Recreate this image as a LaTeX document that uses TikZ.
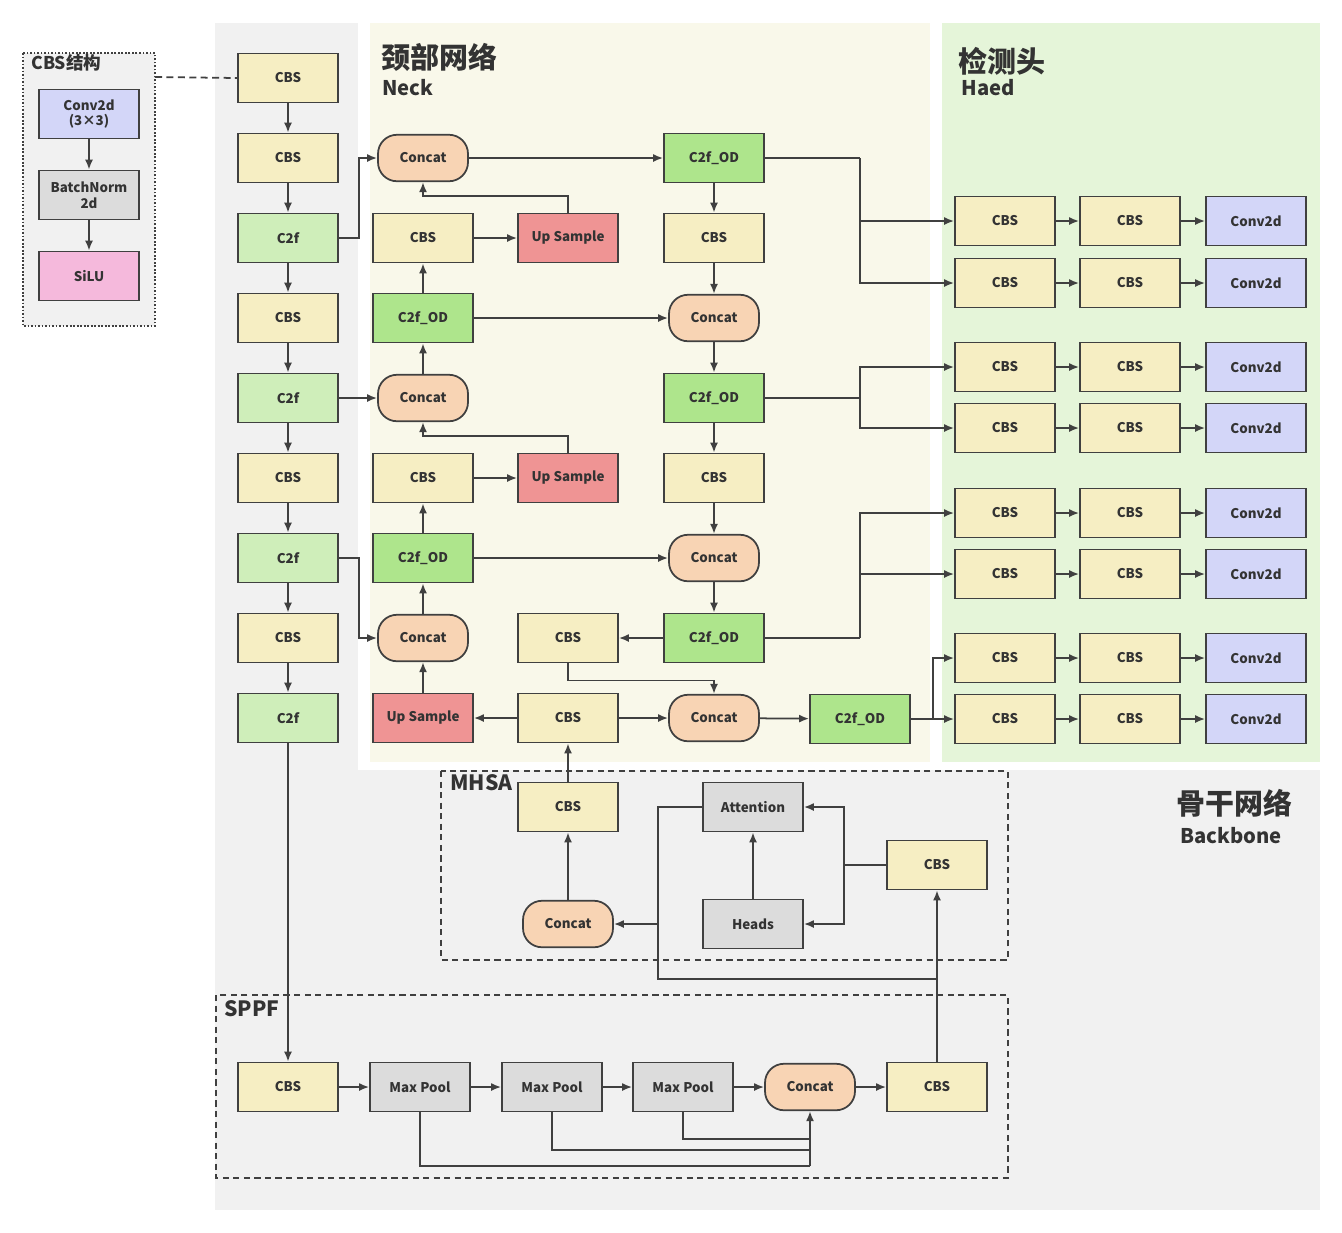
\documentclass[tikz,border=0pt]{standalone}
\usepackage{fontspec}
\setmainfont{Noto Sans CJK SC}
\usetikzlibrary{arrows.meta}
\usetikzlibrary{calc}

\definecolor{linegray}{HTML}{404040}
\definecolor{txtgray}{HTML}{333333}
\definecolor{bggray}{HTML}{F1F1F1}
\definecolor{bgneck}{HTML}{F9F8EA}
\definecolor{bghead}{HTML}{E5F5D9}
\definecolor{cbsfill}{HTML}{F6EEC3}
\definecolor{cfill}{HTML}{CFEEBA}
\definecolor{odfill}{HTML}{AEE58C}
\definecolor{catfill}{HTML}{F8D4B4}
\definecolor{upfill}{HTML}{EF9494}
\definecolor{poolfill}{HTML}{DCDCDC}
\definecolor{convfill}{HTML}{D3D6F8}
\definecolor{silufill}{HTML}{F5B9DC}

\tikzset{
  blk/.style={draw=linegray,line width=1pt,minimum width=2cm,minimum height=0.98cm,
    inner sep=1pt,align=center,text=txtgray,font=\fontsize{7.6}{9}\selectfont\bfseries},
  cbs/.style={blk,fill=cbsfill},
  ctwo/.style={blk,fill=cfill},
  ctwood/.style={blk,fill=odfill},
  cat/.style={blk,fill=catfill,minimum width=1.8cm,minimum height=0.93cm,rounded corners=0.38cm},
  ups/.style={blk,fill=upfill},
  pool/.style={blk,fill=poolfill},
  conv/.style={blk,fill=convfill},
  arr/.style={draw=linegray,line width=1pt,-{Latex[length=2mm,width=1.6mm]}},
  ln/.style={draw=linegray,line width=1pt},
  dashframe/.style={draw=linegray,line width=1pt,dash pattern=on 3.5pt off 2.5pt},
  ttl/.style={text=txtgray,inner sep=0pt,font=\fontsize{16.5}{20}\selectfont\bfseries},
  ttlsub/.style={text=txtgray,inner sep=0pt,font=\fontsize{11.5}{14}\selectfont\bfseries},
  tagtxt/.style={text=txtgray,inner sep=0pt,font=\fontsize{12}{14}\selectfont\bfseries},
}

\begin{document}
\begin{tikzpicture}[x=0.02cm,y=-0.02cm]
\useasboundingbox (0,0) rectangle (1342,1232);
% background regions
\fill[bggray] (215,23) rectangle (1320,1210);
\fill[white] (358,23) rectangle (1342,770);
\fill[bgneck] (370,23) rectangle (930,762);
\fill[bghead] (942,23) rectangle (1320,762);
% titles
\node[ttl,anchor=west] (tneck) at (381,57) {颈部网络};
\node[ttlsub,anchor=base west] (tneckb) at (382,95) {Neck};
\node[ttl,anchor=west] (thead) at (958,61) {检测头};
\node[ttlsub,anchor=base west] (theadb) at (961,95) {Haed};
\node[ttl,anchor=west] (tback) at (1176,803) {骨干网络};
\node[ttlsub,anchor=base west] (tbackb) at (1180,843) {Backbone};

% CBS structure
\fill[bggray] (23,53) rectangle (155,326);
\draw[ln,dash pattern=on 1pt off 1pt] (23,53) rectangle (155,326);
\node[tagtxt,font=\fontsize{10}{12}\selectfont\bfseries,anchor=west] (tcbs) at (31,63) {CBS结构};
\node[conv] (sc1) at (89,114) {Conv2d\\(3×3)};
\node[pool] (sc2) at (89,195) {BatchNorm\\2d};
\node[blk,fill=silufill] (sc3) at (89,276) {SiLU};
\draw[arr] (sc1) -- (sc2);
\draw[arr] (sc2) -- (sc3);
\coordinate (cbsr) at (155,77);

% backbone column
\foreach \y/\t/\c [count=\i] in {78/CBS/cbsfill,158/CBS/cbsfill,238/C2f/cfill,318/CBS/cbsfill,398/C2f/cfill,478/CBS/cbsfill,558/C2f/cfill,638/CBS/cbsfill,718/C2f/cfill}
  \node[blk,fill=\c] (b\i) at (288,\y) {\t};
\foreach \i [evaluate=\i as \j using int(\i+1)] in {1,...,8}
  \draw[arr] (b\i) -- (b\j);
\draw[ln,dashed,dash pattern=on 4pt off 2.5pt] (cbsr) -- (b1.west);

% neck, left column
\node[cat] (nl1) at (423,158) {Concat};
\node[cbs] (nl2) at (423,238) {CBS};
\node[ctwood] (nl3) at (423,318) {C2f\_OD};
\node[cat] (nl4) at (423,398) {Concat};
\node[cbs] (nl5) at (423,478) {CBS};
\node[ctwood] (nl6) at (423,558) {C2f\_OD};
\node[cat] (nl7) at (423,638) {Concat};
\node[ups] (nl8) at (423,718) {Up Sample};
% neck, middle column
\node[ups] (nm1) at (568,238) {Up Sample};
\node[ups] (nm2) at (568,478) {Up Sample};
\node[cbs] (nm3) at (568,638) {CBS};
\node[cbs] (nm4) at (568,718) {CBS};
% neck, right column
\node[ctwood] (nr1) at (714,158) {C2f\_OD};
\node[cbs] (nr2) at (714,238) {CBS};
\node[cat] (nr3) at (714,318) {Concat};
\node[ctwood] (nr4) at (714,398) {C2f\_OD};
\node[cbs] (nr5) at (714,478) {CBS};
\node[cat] (nr6) at (714,558) {Concat};
\node[ctwood] (nr7) at (714,638) {C2f\_OD};
\node[cat] (nr8) at (714,718) {Concat};
\node[ctwood] (nod) at (860,719) {C2f\_OD};

% backbone to neck
\draw[arr] (b3.east) -- ++(20,0) |- (nl1.west);
\draw[arr] (b5.east) -- (nl4.west);
\draw[arr] (b7.east) -- ++(20,0) |- (nl7.west);
% neck links
\draw[arr] (nl8) -- (nl7);
\draw[arr] (nl7) -- (nl6);
\draw[arr] (nl6) -- (nl5);
\draw[arr] (nl5) -- (nm2);
\draw[arr] (nm2.north) -- ++(0,-17) -| (nl4.south);
\draw[arr] (nl4) -- (nl3);
\draw[arr] (nl3) -- (nl2);
\draw[arr] (nl2) -- (nm1);
\draw[arr] (nm1.north) -- ++(0,-17) -| (nl1.south);
\draw[arr] (nl1) -- (nr1);
\draw[arr] (nl3) -- (nr3);
\draw[arr] (nl6) -- (nr6);
\foreach \i [evaluate=\i as \j using int(\i+1)] in {1,...,6}
  \draw[arr] (nr\i) -- (nr\j);
\draw[arr] (nr7) -- (nm3);
\draw[arr] (nm3.south) -- ++(0,17) -| (nr8.north);
\draw[arr] (nm4) -- (nl8);
\draw[arr] (nm4) -- (nr8);
\draw[arr] (nr8) -- (nod);

% detection head
\foreach \y [count=\i] in {221,283,367,428,513,574,658,719} {
  \node[cbs] (ha\i) at (1005,\y) {CBS};
  \node[cbs] (hb\i) at (1130,\y) {CBS};
  \node[conv] (hc\i) at (1256,\y) {Conv2d};
  \draw[arr] (ha\i) -- (hb\i);
  \draw[arr] (hb\i) -- (hc\i);
}
\coordinate (sp1) at (860,158);
\coordinate (sp2) at (860,398);
\coordinate (sp3) at (860,638);
\coordinate (sp4) at (933,719);
\draw[ln] (nr1.east) -- (sp1);
\draw[arr] (sp1) |- (ha1.west);
\draw[arr] (sp1) |- (ha2.west);
\draw[ln] (nr4.east) -- (sp2);
\draw[arr] (sp2) |- (ha3.west);
\draw[arr] (sp2) |- (ha4.west);
\draw[ln] (nr7.east) -- (sp3);
\draw[arr] (sp3) |- (ha5.west);
\draw[arr] (sp3) |- (ha6.west);
\draw[ln] (nod.east) -- (sp4);
\draw[arr] (sp4) |- (ha7.west);
\draw[arr] (sp4) -- (ha8.west);

% MHSA
\draw[dashframe] (441,771) rectangle (1008,960);
\node[tagtxt,anchor=west] (tmhsa) at (450,783) {MHSA};
\node[cbs] (mcbs1) at (568,807) {CBS};
\node[cat] (mcat) at (568,924) {Concat};
\node[pool] (attn) at (753,807) {Attention};
\node[pool] (heads) at (753,924) {Heads};
\node[cbs] (mcbs2) at (937,865) {CBS};
\draw[arr] (mcat) -- (mcbs1);
\draw[arr] (mcbs1) -- (nm4);
\draw[arr] (heads) -- (attn);
\draw[arr] (mcbs2.west) -- ++(-42,0) |- (attn.east);
\draw[arr] (mcbs2.west) -- ++(-42,0) |- (heads.east);
\draw[ln] (attn.west) -| (658,979) -- (937,979);
\draw[arr] (658,924) -- (mcat.east);

% SPPF
\draw[dashframe] (216,995) rectangle (1008,1178);
\node[tagtxt,anchor=west] (tsppf) at (224,1009) {SPPF};
\node[cbs] (scbs1) at (288,1087) {CBS};
\node[pool] (mp1) at (420,1087) {Max Pool};
\node[pool] (mp2) at (552,1087) {Max Pool};
\node[pool] (mp3) at (683,1087) {Max Pool};
\node[cat] (scat) at (810,1087) {Concat};
\node[cbs] (scbs2) at (937,1087) {CBS};
\draw[arr] (b9) -- (scbs1);
\draw[arr] (scbs1) -- (mp1);
\draw[arr] (mp1) -- (mp2);
\draw[arr] (mp2) -- (mp3);
\draw[arr] (mp3) -- (scat);
\draw[arr] (scat) -- (scbs2);
\draw[arr] (scbs2) -- (mcbs2);
\draw[ln] (mp1.south) |- (810,1166);
\draw[ln] (mp2.south) |- (810,1150);
\draw[ln] (mp3.south) |- (810,1139);
\draw[arr] (810,1166) -- (scat.south);
\end{tikzpicture}
\end{document}
